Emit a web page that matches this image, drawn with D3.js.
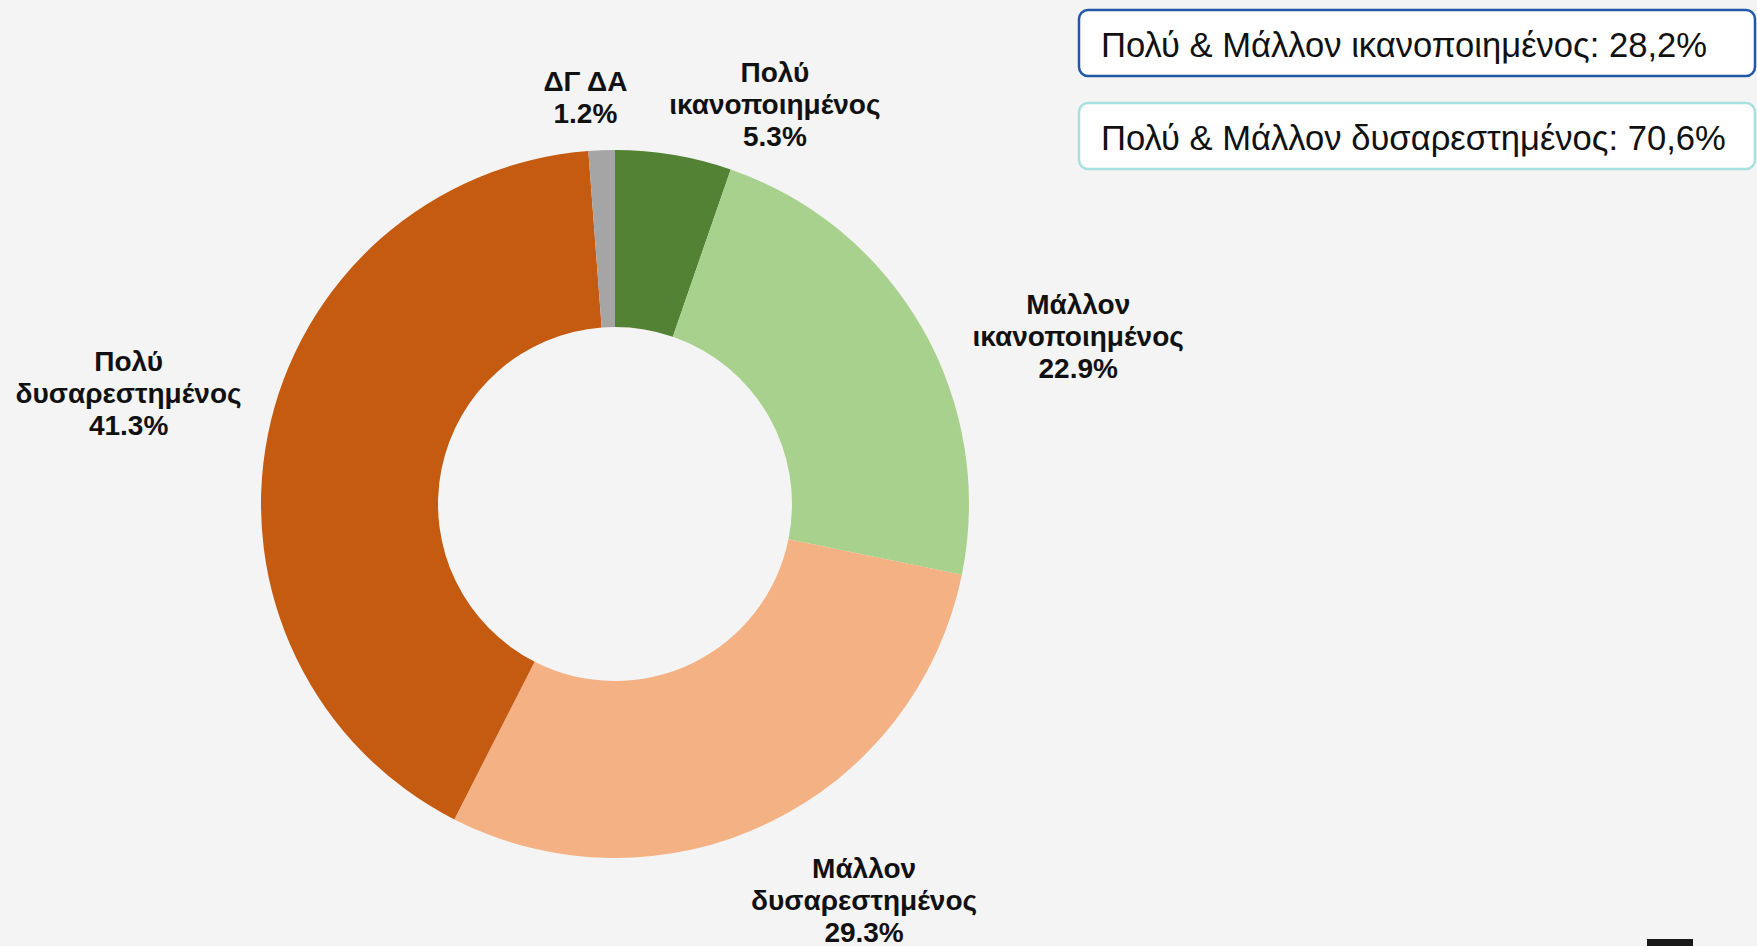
<!DOCTYPE html>
<html>
<head>
<meta charset="utf-8">
<script src="https://cdn.jsdelivr.net/npm/d3@7"></script>
<style>
  html, body { margin: 0; padding: 0; background: #f4f4f4; }
  svg { display: block; }
</style>
</head>
<body>
<svg id="donut" width="1757" height="946"></svg>
<script>
// slices, clockwise from 12 o'clock
const categories = ['Πολύ ικανοποιημένος', 'Μάλλον ικανοποιημένος', 'Μάλλον δυσαρεστημένος', 'Πολύ δυσαρεστημένος', 'ΔΓ ΔΑ'];
const labelLines = [['Πολύ', 'ικανοποιημένος'], ['Μάλλον', 'ικανοποιημένος'], ['Μάλλον', 'δυσαρεστημένος'], ['Πολύ', 'δυσαρεστημένος'], ['ΔΓ ΔΑ']];
const values = [5.3, 22.9, 29.3, 41.3, 1.2];
const colors = ['#548235', '#a9d18e', '#f4b183', '#c55a11', '#a5a5a5'];
const summaryTexts = ['Πολύ & Μάλλον ικανοποιημένος: 28,2%', 'Πολύ & Μάλλον δυσαρεστημένος: 70,6%'];
const summaryBorders = ['#2257a8', '#a8e0e0'];

const svg = d3.select('#donut');
const cx = 615, cy = 504;
const outerR = 354, innerR = 177;
const labelR = 440;
// hand nudges so labels sit where the original placed them
const labelNudge = [[87, 34], [81, 50], [58, 0], [-55, -24], [-13, 33]];

const data = categories.map((c, i) => ({ name: c, lines: labelLines[i], value: values[i], color: colors[i], nudge: labelNudge[i] }));

const pie = d3.pie().value(d => d.value).sort(null);
const arcs = pie(data);

const arc = d3.arc().innerRadius(innerR).outerRadius(outerR);
const labelArc = d3.arc().innerRadius(labelR).outerRadius(labelR);

const g = svg.append('g').attr('transform', `translate(${cx},${cy})`);

g.selectAll('path.slice')
  .data(arcs)
  .enter()
  .append('path')
  .attr('class', 'slice')
  .attr('d', arc)
  .attr('fill', d => d.data.color);

const lineH = 32;
g.selectAll('text.lbl')
  .data(arcs)
  .enter()
  .append('text')
  .attr('class', 'lbl')
  .attr('text-anchor', 'middle')
  .attr('font-family', 'Liberation Sans, Arial, sans-serif')
  .attr('font-weight', 'bold')
  .attr('font-size', 28)
  .attr('fill', '#111')
  .each(function (d) {
    const [px, py] = labelArc.centroid(d);
    const x = px + d.data.nudge[0];
    const y = py + d.data.nudge[1];
    const lines = [...d.data.lines, d3.format('.1f')(d.data.value) + '%'];
    const top = y - (lines.length - 1) * lineH / 2;
    const t = d3.select(this);
    lines.forEach((ln, i) => {
      t.append('tspan')
        .attr('x', x)
        .attr('y', top + i * lineH)
        .attr('dy', '0.35em')
        .text(ln);
    });
  });

// summary boxes top right
const boxes = svg.append('g');
summaryTexts.forEach((txt, i) => {
  const by = 10 + i * 93;
  boxes.append('rect')
    .attr('x', 1079)
    .attr('y', by)
    .attr('width', 676)
    .attr('height', 66)
    .attr('rx', 9)
    .attr('fill', '#ffffff')
    .attr('stroke', summaryBorders[i])
    .attr('stroke-width', 2.5);
  boxes.append('text')
    .attr('x', 1101)
    .attr('y', by + 47)
    .attr('font-family', 'Liberation Sans, Arial, sans-serif')
    .attr('font-size', 34.6)
    .attr('fill', '#111')
    .text(txt);
});

// dark tab at the bottom edge
svg.append('rect')
  .attr('x', 1647)
  .attr('y', 939)
  .attr('width', 46)
  .attr('height', 7)
  .attr('fill', '#1a1a1a');
</script>
</body>
</html>
